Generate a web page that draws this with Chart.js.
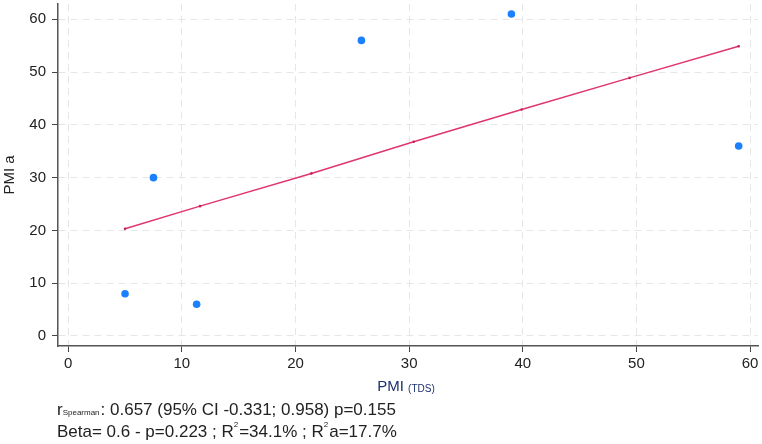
<!DOCTYPE html>
<html>
<head>
<meta charset="utf-8">
<script src="https://cdn.jsdelivr.net/npm/chart.js@4"></script>
<style>
  body { margin: 0; background: #fff; }
  #wrap { width: 762px; height: 444px; }
</style>
</head>
<body>
<div id="wrap"><canvas id="chart"></canvas></div>
<script>
// scatter points
const pmiTds = [5, 7.5, 11.3, 25.8, 39, 59];
const pmiA = [8, 30, 6, 56, 61, 36];

// fitted line (small marks along it)
const fitX = [5, 11.6, 21.4, 30.4, 39.9, 49.4, 59];
const fitY = [20.3, 24.6, 30.8, 36.8, 42.9, 48.9, 54.9];

const xTicks = [0, 10, 20, 30, 40, 50, 60];
const yTicks = [0, 10, 20, 30, 40, 50, 60];

const FONT = "'Liberation Sans Narrow', 'Arial Narrow', 'Liberation Sans', Arial, sans-serif";

// draws the x title and the stats lines under the plot
const notesPlugin = {
    id: 'notes',
    afterDraw(chart) {
        const c = chart.ctx;
        c.save();
        c.textBaseline = 'middle';

        // x title "PMI (TDS)"
        c.fillStyle = '#1c2f6e';
        c.font = '15px ' + FONT;
        const w1 = c.measureText('PMI ').width;
        c.font = '10px ' + FONT;
        const w2 = c.measureText('(TDS)').width;
        let x = 406 - (w1 + w2) / 2;
        c.font = '15px ' + FONT;
        c.fillText('PMI ', x, 387);
        c.font = '10px ' + FONT;
        c.fillText('(TDS)', x + w1, 389);

        c.fillStyle = '#222';
        // r Spearman line
        x = 57;
        c.font = '17px ' + FONT;
        c.fillText('r', x, 410);
        x += c.measureText('r').width;
        c.font = '8px ' + FONT;
        c.fillText('Spearman', x, 413);
        x += c.measureText('Spearman').width + 1;
        c.font = '17px ' + FONT;
        c.fillText(': 0.657 (95% CI -0.331; 0.958) p=0.155', x, 410);

        // Beta line
        x = 57;
        const parts = [['Beta= 0.6 - p=0.223 ; R', 0], ['2', 1], ['=34.1% ; R', 0], ['2', 1], ['a=17.7%', 0]];
        parts.forEach(([t, sup]) => {
            c.font = (sup ? '8px ' : '17px ') + FONT;
            c.fillText(t, x, sup ? 425 : 432);
            x += c.measureText(t).width + (sup ? 1 : 0);
        });
        c.restore();
    }
};

const gridStyle = {
    color: '#e6e6e6',
    lineWidth: 1,
    tickColor: '#444',
    tickLength: 6,
    tickBorderDash: []
};

const borderStyle = { color: '#555', width: 1.5, dash: [7, 5] };

new Chart(document.getElementById('chart'), {
    type: 'scatter',
    data: {
        datasets: [
            {
                label: 'fit',
                type: 'line',
                data: fitX.map((v, i) => ({ x: v, y: fitY[i] })),
                borderColor: '#e0356d',
                backgroundColor: '#c8204f',
                borderWidth: 1.5,
                pointRadius: 1.3,
                pointBorderWidth: 0,
                fill: false,
                tension: 0
            },
            {
                label: 'PMI a',
                data: pmiTds.map((v, i) => ({ x: v, y: pmiA[i] })),
                backgroundColor: '#1a80ff',
                borderColor: '#1a80ff',
                pointRadius: 3.8,
                pointBorderWidth: 0
            }
        ]
    },
    options: {
        responsive: true,
        maintainAspectRatio: false,
        animation: false,
        layout: { padding: { top: 1, right: 2, left: 0, bottom: 0 } },
        plugins: {
            legend: { display: false },
            tooltip: { enabled: false }
        },
        scales: {
            x: {
                type: 'linear',
                min: -0.9,
                max: 60.7,
                afterBuildTicks: s => { s.ticks = xTicks.map(v => ({ value: v })); },
                afterFit: s => { s.height = 98; s.paddingLeft = 0; s.paddingRight = 0; },
                grid: gridStyle,
                border: borderStyle,
                ticks: {
                    color: '#222',
                    padding: 3,
                    font: { family: FONT, size: 15 }
                }
            },
            y: {
                type: 'linear',
                min: -1.9,
                max: 62.9,
                afterBuildTicks: s => { s.ticks = yTicks.map(v => ({ value: v })); },
                afterFit: s => { s.width = 58; s.paddingTop = 0; s.paddingBottom = 0; },
                grid: gridStyle,
                border: borderStyle,
                title: {
                    display: true,
                    text: 'PMI a',
                    color: '#222',
                    padding: 1,
                    font: { family: FONT, size: 15 }
                },
                ticks: {
                    color: '#222',
                    padding: 6,
                    font: { family: FONT, size: 15 }
                }
            }
        }
    },
    plugins: [notesPlugin]
});
</script>
</body>
</html>
